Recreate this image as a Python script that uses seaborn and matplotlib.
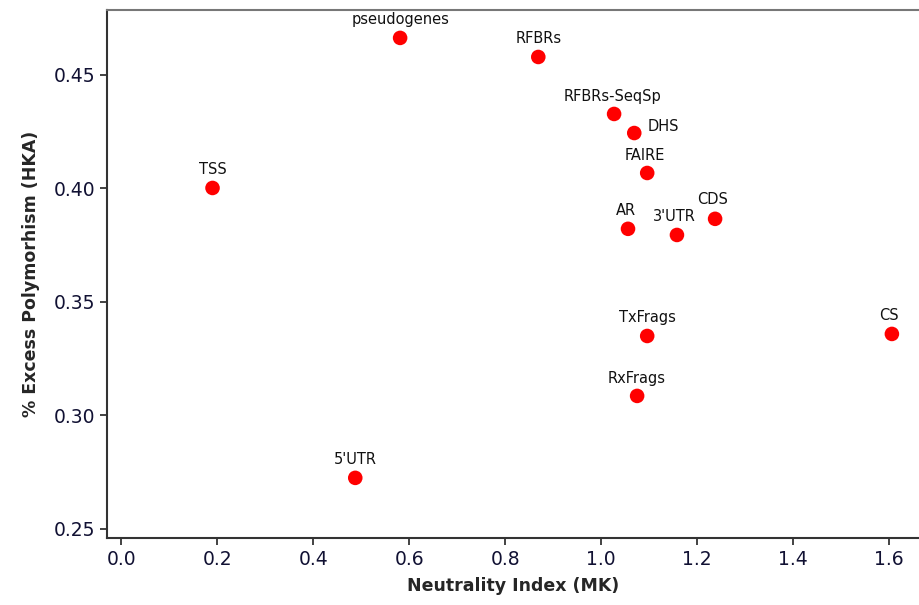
import pandas as pd
import matplotlib
matplotlib.use('Agg')
import matplotlib.pyplot as plt
import seaborn as sns

# values
regions = ['pseudogenes', 'RFBRs', 'RFBRs-SeqSp', 'DHS', 'FAIRE', 'AR', "3'UTR",
           'CDS', 'TSS', 'TxFrags', 'CS', 'RxFrags', "5'UTR"]
neutrality_index = [0.581, 0.869, 1.027, 1.069, 1.096, 1.056, 1.158,
                    1.2375, 0.19, 1.096, 1.606, 1.075, 0.4875]
excess_poly = [0.4663, 0.4579, 0.4328, 0.4244, 0.4068, 0.3822, 0.3795,
               0.3866, 0.4002, 0.335, 0.3359, 0.3086, 0.2725]

df = pd.DataFrame({'region': regions, 'MK': neutrality_index, 'HKA': excess_poly})

# label offsets in pixels (dx, dy, ha)
offsets = {'DHS': (13, 7, 'left'), 'RFBRs-SeqSp': (-2, 17, 'center'),
           'FAIRE': (-2, 17, 'center'), 'AR': (-2, 18, 'center'),
           "3'UTR": (-3, 18, 'center'), 'CDS': (-3, 19, 'center'),
           'CS': (-3, 18, 'center'), 'RxFrags': (-1, 17, 'center')}

sns.set_style('ticks')
plt.rcParams['font.family'] = ['DejaVu Sans']

fig = plt.figure(figsize=(9.19, 6.05), dpi=100)
ax = fig.add_axes([0.1164, 0.1107, 0.8836, 0.8728])

sns.scatterplot(x='MK', y='HKA', data=df, ax=ax, color='#ff0000', s=110,
                edgecolor='none', zorder=3)

for _, row in df.iterrows():
    dx, dy, ha = offsets.get(row['region'], (0, 18, 'center'))
    ax.annotate(row['region'], (row['MK'], row['HKA']), xytext=(dx, dy),
                textcoords='offset pixels', ha=ha, va='center',
                fontsize=10.5, color='#111111')

ax.set_xlim(-0.03, 1.6625)
ax.set_ylim(0.246, 0.4786)
ax.set_xticks([0.0, 0.2, 0.4, 0.6, 0.8, 1.0, 1.2, 1.4, 1.6])
ax.set_yticks([0.25, 0.30, 0.35, 0.40, 0.45])
ax.xaxis.set_major_formatter(matplotlib.ticker.FormatStrFormatter('%.1f'))
ax.yaxis.set_major_formatter(matplotlib.ticker.FormatStrFormatter('%.2f'))
ax.tick_params(direction='out', length=5, width=1.2, labelsize=13.5,
               colors='#222222', labelcolor='#111133')

ax.spines['right'].set_visible(False)
for side in ['left', 'bottom']:
    ax.spines[side].set_color('#333333')
    ax.spines[side].set_linewidth(1.5)
ax.spines['top'].set_color('#777777')
ax.spines['top'].set_linewidth(1.5)

ax.set_xlabel('Neutrality Index (MK)', fontsize=12.5, fontweight='bold', labelpad=6)
ax.set_ylabel('% Excess Polymorhism (HKA)', fontsize=12.5, fontweight='bold', labelpad=10)

fig.savefig('out.png', dpi=100)
